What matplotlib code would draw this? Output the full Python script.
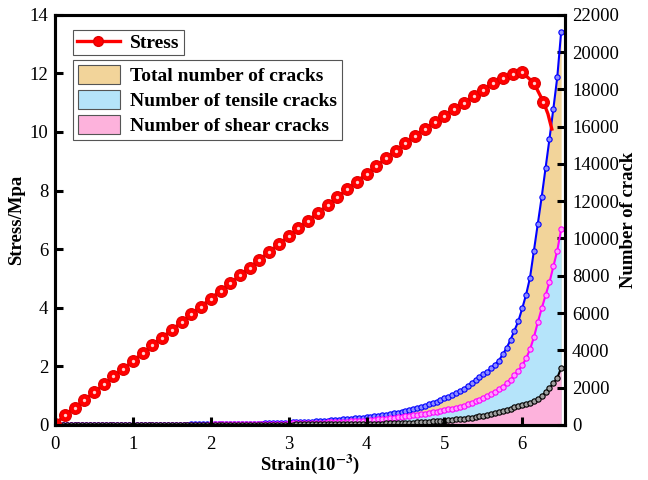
import matplotlib.pyplot as plt
from matplotlib.patches import Patch
from matplotlib.lines import Line2D

plt.rcParams['font.family'] = ['Liberation Serif', 'DejaVu Serif']
plt.rcParams['mathtext.fontset'] = 'stix'

# stress-strain curve (strain in 1e-3, stress in MPa)
stress_strain = [0.0, 0.125, 0.25, 0.375, 0.5, 0.625, 0.75, 0.875,
                 1.0, 1.125, 1.25, 1.375, 1.5, 1.625, 1.75, 1.875,
                 2.0, 2.125, 2.25, 2.375, 2.5, 2.625, 2.75, 2.875,
                 3.0, 3.125, 3.25, 3.375, 3.5, 3.625, 3.75, 3.875,
                 4.0, 4.125, 4.25, 4.375, 4.5, 4.625, 4.75, 4.875,
                 5.0, 5.125, 5.25, 5.375, 5.5, 5.625, 5.75, 5.875,
                 6.0, 6.15, 6.27, 6.33, 6.38]
stress = [0.02, 0.32, 0.58, 0.85, 1.11, 1.38, 1.65, 1.91,
          2.18, 2.45, 2.71, 2.98, 3.24, 3.51, 3.78, 4.04,
          4.31, 4.58, 4.84, 5.11, 5.37, 5.64, 5.91, 6.17,
          6.44, 6.71, 6.97, 7.24, 7.50, 7.77, 8.04, 8.30,
          8.57, 8.84, 9.10, 9.36, 9.62, 9.86, 10.10, 10.33,
          10.56, 10.78, 11.00, 11.22, 11.45, 11.66, 11.84, 11.97,
          12.04, 11.67, 11.04, 10.62, 10.10]

# crack counts
crack_strain = [0.00, 0.05, 0.10, 0.15, 0.20, 0.25, 0.30, 0.35, 0.40, 0.45,
                0.50, 0.55, 0.60, 0.65, 0.70, 0.75, 0.80, 0.85, 0.90, 0.95,
                1.00, 1.05, 1.10, 1.15, 1.20, 1.25, 1.30, 1.35, 1.40, 1.45,
                1.50, 1.55, 1.60, 1.65, 1.70, 1.75, 1.80, 1.85, 1.90, 1.95,
                2.00, 2.05, 2.10, 2.15, 2.20, 2.25, 2.30, 2.35, 2.40, 2.45,
                2.50, 2.55, 2.60, 2.65, 2.70, 2.75, 2.80, 2.85, 2.90, 2.95,
                3.00, 3.05, 3.10, 3.15, 3.20, 3.25, 3.30, 3.35, 3.40, 3.45,
                3.50, 3.55, 3.60, 3.65, 3.70, 3.75, 3.80, 3.85, 3.90, 3.95,
                4.00, 4.05, 4.10, 4.15, 4.20, 4.25, 4.30, 4.35, 4.40, 4.45,
                4.50, 4.55, 4.60, 4.65, 4.70, 4.75, 4.80, 4.85, 4.90, 4.95,
                5.00, 5.05, 5.10, 5.15, 5.20, 5.25, 5.30, 5.35, 5.40, 5.45,
                5.50, 5.55, 5.60, 5.65, 5.70, 5.75, 5.80, 5.85, 5.90, 5.95,
                6.00, 6.05, 6.10, 6.15, 6.20, 6.25, 6.30, 6.35, 6.40, 6.45,
                6.50]
total_cracks = [0, 0, 0, 0, 0, 0, 0, 0, 1, 1,
                1, 1, 2, 2, 2, 3, 3, 3, 4, 4,
                5, 5, 6, 6, 7, 8, 8, 9, 10, 11,
                12, 13, 14, 15, 16, 18, 19, 20, 22, 24,
                26, 28, 30, 32, 35, 38, 41, 44, 47, 50,
                54, 58, 62, 66, 71, 76, 81, 87, 93, 100,
                115, 124, 133, 143, 153, 164, 175, 187, 199, 212,
                226, 240, 255, 271, 287, 304, 321, 339, 357, 377,
                400, 425, 452, 480, 510, 542, 576, 614, 655, 700,
                748, 800, 855, 912, 972, 1035, 1100, 1170, 1245, 1330,
                1420, 1505, 1595, 1690, 1800, 1930, 2090, 2260, 2410, 2550,
                2700, 2850, 3030, 3230, 3450, 3780, 4130, 4560, 5060, 5560,
                6250, 6990, 7900, 9350, 10780, 12230, 13790, 15350, 16970, 18650,
                21100]
tensile_cracks = [0, 0, 0, 0, 0, 0, 0, 0, 0, 1,
                  1, 1, 1, 1, 2, 2, 2, 2, 2, 3,
                  3, 3, 4, 4, 5, 5, 6, 6, 7, 7,
                  8, 9, 9, 10, 11, 12, 13, 14, 15, 16,
                  17, 18, 20, 21, 23, 25, 27, 29, 31, 33,
                  36, 39, 42, 45, 48, 52, 56, 60, 63, 66,
                  70, 74, 78, 83, 88, 94, 100, 106, 113, 120,
                  128, 136, 145, 154, 163, 173, 183, 193, 202, 211,
                  220, 240, 262, 285, 308, 331, 354, 378, 402, 427,
                  452, 478, 505, 535, 566, 598, 632, 668, 705, 743,
                  782, 822, 865, 912, 965, 1030, 1100, 1180, 1265, 1350,
                  1440, 1540, 1650, 1770, 1900, 2040, 2220, 2430, 2660, 2900,
                  3200, 3560, 4050, 4700, 5500, 6250, 6950, 7650, 8500, 9350,
                  10500]
shear_cracks = [0, 0, 0, 0, 0, 0, 0, 0, 0, 0,
                0, 0, 0, 0, 0, 0, 0, 0, 0, 0,
                0, 0, 0, 0, 0, 1, 1, 1, 1, 1,
                1, 1, 1, 2, 2, 2, 2, 2, 3, 3,
                3, 3, 4, 4, 4, 5, 5, 6, 6, 7,
                7, 8, 8, 9, 10, 10, 11, 12, 13, 14,
                15, 16, 17, 18, 19, 20, 22, 23, 25, 26,
                28, 30, 32, 34, 36, 38, 40, 43, 45, 48,
                50, 54, 58, 62, 67, 72, 78, 84, 91, 98,
                106, 114, 123, 132, 142, 153, 165, 178, 191, 205,
                225, 245, 265, 288, 310, 335, 362, 390, 420, 450,
                485, 522, 565, 615, 670, 730, 795, 865, 935, 1000,
                1060, 1125, 1195, 1270, 1380, 1540, 1740, 1970, 2220, 2520,
                3050]

x_ticks = [0, 1, 2, 3, 4, 5, 6]
stress_ticks = [0, 2, 4, 6, 8, 10, 12, 14]
crack_ticks = [0, 2000, 4000, 6000, 8000, 10000, 12000, 14000, 16000,
               18000, 20000, 22000]

tan = '#F2D49A'
light_blue = '#B5E4FA'
pink = '#FDB2DC'

fig = plt.figure(figsize=(6.48, 4.8), dpi=100)
ax1 = fig.add_axes([0.085, 0.115, 0.787, 0.854])
ax2 = ax1.twinx()
ax1.set_zorder(ax2.get_zorder() + 1)
ax1.patch.set_visible(False)

# crack areas and curves on the right axis
ax2.fill_between(crack_strain, 0, total_cracks, color=tan, lw=0)
ax2.fill_between(crack_strain, 0, tensile_cracks, color=light_blue, lw=0)
ax2.fill_between(crack_strain, 0, shear_cracks, color=pink, lw=0)
ax2.plot(crack_strain, total_cracks, color='#0000FF', lw=1.5, marker='o',
         ms=3.8, mfc='#8C8CFF', mec='#0000FF', mew=0.8)
ax2.plot(crack_strain, tensile_cracks, color='#FF00FF', lw=1.5, marker='o',
         ms=3.8, mfc='#FF9CFF', mec='#FF00FF', mew=0.8)
ax2.plot(crack_strain, shear_cracks, color='black', lw=1.5, marker='o',
         ms=3.8, mfc='#A0A0A0', mec='black', mew=0.8)

# stress curve on the left axis (last two points carry no marker)
ax1.plot(stress_strain, stress, color='red', lw=2.4, marker='o', ms=8.5,
         mfc='red', mec='#E00000', mew=0.8, markevery=slice(0, -2))
ax1.plot(stress_strain[:-2], stress[:-2], ls='none', marker='o', ms=2.4,
         mfc='#FFD0D0', mec='none')

ax1.set_xlim(0, 6.55)
ax1.set_ylim(0, 14)
ax2.set_ylim(0, 22000)
ax1.set_xticks(x_ticks)
ax1.set_yticks(stress_ticks)
ax2.set_yticks(crack_ticks)

for ax in (ax1, ax2):
    for sp in ax.spines.values():
        sp.set_linewidth(2.2)
    ax.tick_params(direction='in', length=6, width=2.2, labelsize=13.5)
ax1.tick_params(axis='x', pad=8)
ax1.tick_params(axis='y', pad=5)
ax2.tick_params(axis='y', pad=5)

ax1.set_xlabel('Strain(10$^{\\mathbf{-3}}$)', fontsize=13.5, fontweight='bold',
               labelpad=0)
ax1.set_ylabel('Stress/Mpa', fontsize=13.5, fontweight='bold', labelpad=3)
ax2.set_ylabel('Number of crack', fontsize=13.5, fontweight='bold', labelpad=1)

leg_font = {'weight': 'bold', 'size': 14}
stress_handle = Line2D([], [], color='red', lw=2.4, marker='o', ms=7,
                       mfc='red', mec='#E00000')
leg1 = ax1.legend([stress_handle], ['Stress'], loc='upper left',
                  bbox_to_anchor=(0.035, 0.963), prop=leg_font,
                  fancybox=False, edgecolor='#555555', framealpha=1,
                  handlelength=2.2, borderpad=0.2, borderaxespad=0,
                  handletextpad=0.55)
leg1.get_frame().set_linewidth(0.8)
ax1.add_artist(leg1)

fill_handles = [Patch(facecolor=tan, edgecolor='#555555', lw=0.8),
                Patch(facecolor=light_blue, edgecolor='#555555', lw=0.8),
                Patch(facecolor=pink, edgecolor='#555555', lw=0.8)]
fill_labels = ['Total number of cracks', 'Number of tensile cracks',
               'Number of shear cracks']
leg2 = ax1.legend(fill_handles, fill_labels, loc='upper left',
                  bbox_to_anchor=(0.035, 0.89), prop=leg_font,
                  fancybox=False, edgecolor='#555555', framealpha=1,
                  handlelength=2.15, handleheight=1.15, borderpad=0.25,
                  borderaxespad=0, labelspacing=0.25, handletextpad=0.55)
leg2.get_frame().set_linewidth(0.8)

fig.savefig('out.png', dpi=100)
